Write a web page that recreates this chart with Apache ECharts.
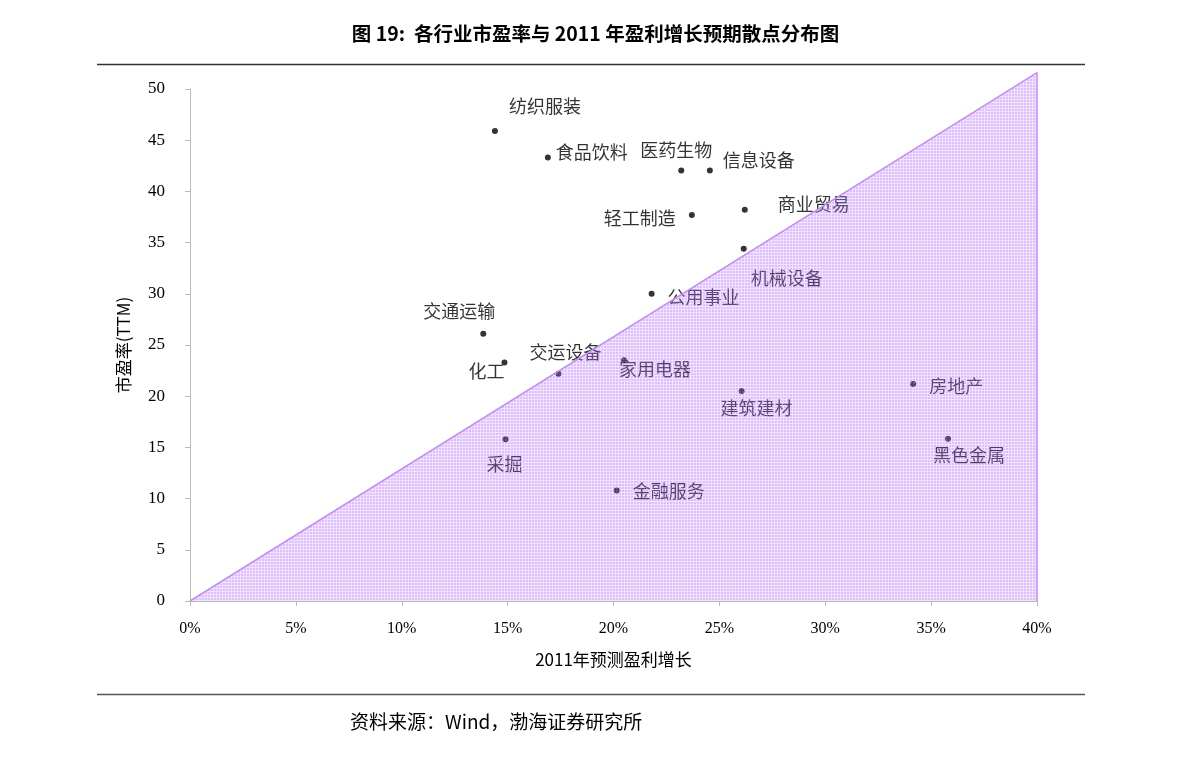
<!DOCTYPE html>
<html>
<head>
<meta charset="utf-8">
<script src="https://cdn.jsdelivr.net/npm/echarts@6/dist/echarts.min.js"></script>
<style>
html, body { margin: 0; padding: 0; background: #fff; }
#main { width: 1191px; height: 759px; }
</style>
</head>
<body>
<div id="main"></div>
<script>
// 行业、2011年预测盈利增长(%)、市盈率(TTM)
const industries = ['纺织服装', '食品饮料', '医药生物', '信息设备', '轻工制造', '商业贸易', '机械设备', '公用事业',
	'交通运输', '化工', '交运设备', '家用电器', '建筑建材', '房地产', '黑色金属', '采掘', '金融服务'];
const growth = [14.4, 16.9, 23.2, 24.55, 23.7, 26.2, 26.15, 21.8, 13.85, 14.85, 17.4, 20.5, 26.05, 34.15, 35.8, 14.9, 20.15];
const pe = [45.9, 43.3, 42.05, 42.05, 37.7, 38.2, 34.4, 30.0, 26.1, 23.3, 22.2, 23.5, 20.5, 21.2, 15.85, 15.8, 10.8];
// 分界线 (0,0) -> (40%, 51.6)
const borderLine = [[0, 0], [40, 51.6], [40, 0]];

// 标签相对点的偏移
const labelOffsets = [[50, -25], [44, -5], [-5, -20], [49, -10], [-52, 3], [69, -6], [43, 29], [52, 3],
	[-24, -23], [-18, 9], [7, -22], [31, 9], [15, 17], [43, 2], [21, 16], [-1, 25], [52, 1]];

// 网格纹理填充
const tile = document.createElement('canvas');
tile.width = 3;
tile.height = 3;
const ctx = tile.getContext('2d');
ctx.fillStyle = 'rgba(180, 115, 255, 0.46)';
ctx.fillRect(1, 1, 2, 2);
ctx.fillStyle = 'rgba(180, 115, 255, 0.2)';
ctx.fillRect(0, 0, 3, 1);
ctx.fillRect(0, 1, 1, 2);

const myCharts = echarts.init(document.querySelector('#main'));

const points = industries.map((name, i) => ({
	name: name,
	value: [growth[i], pe[i]],
	label: { offset: labelOffsets[i] }
}));

const option = {
	animation: false,
	grid: { left: 190, right: 154, top: 89, bottom: 158 },
	graphic: [
		{ type: 'text', left: 'center', top: 24, style: { text: '图 19:  各行业市盈率与 2011 年盈利增长预期散点分布图', font: 'bold 19.5px "Noto Sans CJK SC"', fill: '#000' } },
		{ type: 'line', shape: { x1: 97, y1: 64.5, x2: 1085, y2: 64.5 }, style: { stroke: '#333', lineWidth: 1.5 } },
		{ type: 'line', shape: { x1: 97, y1: 694.5, x2: 1085, y2: 694.5 }, style: { stroke: '#555', lineWidth: 1.5 } },
		{ type: 'text', left: 350, top: 712, style: { text: '资料来源：Wind，渤海证券研究所', font: '19px "Noto Sans CJK SC"', fill: '#000' } }
	],
	xAxis: {
		type: 'value',
		min: 0, max: 40, interval: 5,
		name: '2011年预测盈利增长',
		nameLocation: 'middle',
		nameGap: 50,
		nameTextStyle: { fontFamily: 'Noto Sans CJK SC', fontSize: 17, color: '#000' },
		axisLine: { lineStyle: { color: '#bbb' } },
		axisTick: { show: true, length: 5, lineStyle: { color: '#bbb' } },
		splitLine: { show: false },
		axisLabel: { formatter: v => v + '%', fontFamily: 'Liberation Serif', fontSize: 16, color: '#000', margin: 20 }
	},
	yAxis: {
		type: 'value',
		min: 0, max: 50, interval: 5,
		name: '市盈率(TTM)',
		nameLocation: 'middle',
		nameGap: 58,
		nameRotate: 90,
		nameTextStyle: { fontFamily: 'Noto Sans CJK SC', fontSize: 17, color: '#000' },
		axisLine: { show: true, lineStyle: { color: '#bbb' } },
		axisTick: { show: true, length: 5, lineStyle: { color: '#bbb' } },
		splitLine: { show: false },
		axisLabel: { fontFamily: 'Liberation Serif', fontSize: 17, color: '#000', margin: 25 }
	},
	series: [
		{
			type: 'scatter',
			z: 2,
			symbolSize: 6,
			itemStyle: { color: '#000' },
			data: points,
			label: {
				show: true,
				position: 'inside',
				align: 'center',
				verticalAlign: 'middle',
				formatter: p => p.name,
				fontFamily: 'Noto Sans CJK SC',
				fontSize: 18,
				color: '#000'
			}
		},
		{
			type: 'line',
			z: 5,
			clip: false,
			showSymbol: false,
			silent: true,
			data: borderLine,
			lineStyle: { color: '#c38dfa', width: 1.5 },
			areaStyle: { color: { image: tile, repeat: 'repeat' }, opacity: 1 }
		}
	]
};

myCharts.setOption(option);
</script>
</body>
</html>
